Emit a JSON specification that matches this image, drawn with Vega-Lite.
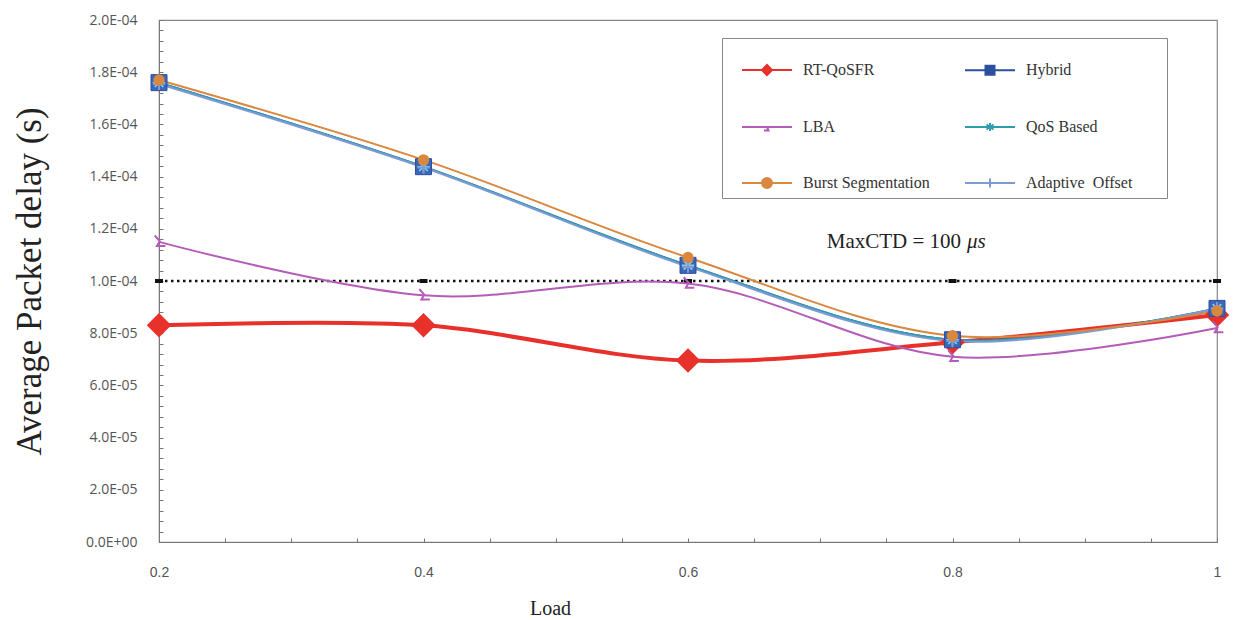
{
  "$schema": "https://vega.github.io/schema/vega-lite/v6.json",
  "width": 1058,
  "height": 522,
  "autosize": {"type": "none"},
  "padding": {"left": 159, "top": 20, "right": 18, "bottom": 78},
  "config": {"view": {"stroke": "#888", "strokeWidth": 1.2}, "font": "Liberation Serif"},
  "datasets": {
    "series": [
      {"series": "RT-QoSFR", "load": 0.2, "delay": 8.3e-5},
      {"series": "RT-QoSFR", "load": 0.4, "delay": 8.3e-5},
      {"series": "RT-QoSFR", "load": 0.6, "delay": 6.95e-5},
      {"series": "RT-QoSFR", "load": 0.8, "delay": 7.65e-5},
      {"series": "RT-QoSFR", "load": 1.0, "delay": 8.7e-5},
      {"series": "LBA", "load": 0.2, "delay": 1.15e-4},
      {"series": "LBA", "load": 0.4, "delay": 9.45e-5},
      {"series": "LBA", "load": 0.6, "delay": 9.9e-5},
      {"series": "LBA", "load": 0.8, "delay": 7.1e-5},
      {"series": "LBA", "load": 1.0, "delay": 8.2e-5},
      {"series": "Hybrid", "load": 0.2, "delay": 1.76e-4},
      {"series": "Hybrid", "load": 0.4, "delay": 1.438e-4},
      {"series": "Hybrid", "load": 0.6, "delay": 1.06e-4},
      {"series": "Hybrid", "load": 0.8, "delay": 7.75e-5},
      {"series": "Hybrid", "load": 1.0, "delay": 8.95e-5},
      {"series": "QoS Based", "load": 0.2, "delay": 1.76e-4},
      {"series": "QoS Based", "load": 0.4, "delay": 1.438e-4},
      {"series": "QoS Based", "load": 0.6, "delay": 1.06e-4},
      {"series": "QoS Based", "load": 0.8, "delay": 7.75e-5},
      {"series": "QoS Based", "load": 1.0, "delay": 8.95e-5},
      {"series": "Adaptive Offset", "load": 0.2, "delay": 1.755e-4},
      {"series": "Adaptive Offset", "load": 0.4, "delay": 1.435e-4},
      {"series": "Adaptive Offset", "load": 0.6, "delay": 1.055e-4},
      {"series": "Adaptive Offset", "load": 0.8, "delay": 7.7e-5},
      {"series": "Adaptive Offset", "load": 1.0, "delay": 8.95e-5},
      {"series": "Burst Segmentation", "load": 0.2, "delay": 1.77e-4},
      {"series": "Burst Segmentation", "load": 0.4, "delay": 1.464e-4},
      {"series": "Burst Segmentation", "load": 0.6, "delay": 1.09e-4},
      {"series": "Burst Segmentation", "load": 0.8, "delay": 7.9e-5},
      {"series": "Burst Segmentation", "load": 1.0, "delay": 8.85e-5}
    ],
    "maxctd": [
      {"load": 0.2, "delay": 1e-4},
      {"load": 0.4, "delay": 1e-4},
      {"load": 0.6, "delay": 1e-4},
      {"load": 0.8, "delay": 1e-4},
      {"load": 1.0, "delay": 1e-4}
    ],
    "note": [
      {"load": 0.808, "delay": 1.149e-4, "a": "MaxCTD = 100", "b": "μs"}
    ]
  },
  "layer": [
    {
      "data": {"name": "maxctd"},
      "mark": {"type": "line", "color": "#111", "strokeWidth": 2.5, "strokeDash": [2.5, 3.5]},
      "encoding": {
        "x": {
          "field": "load", "type": "quantitative",
          "scale": {"domain": [0.2, 1], "nice": false, "zero": false},
          "axis": {
            "values": [0.2, 0.25, 0.3, 0.35, 0.4, 0.45, 0.5, 0.55, 0.6, 0.65, 0.7, 0.75, 0.8, 0.85, 0.9, 0.95, 1],
            "tickCount": 100,
            "labelExpr": "round(datum.value*100) % 20 == 0 ? format(datum.value, '~g') : ''",
            "labelOverlap": false, "labelFlush": false,
            "tickSize": -4, "tickColor": "#777", "domainColor": "#777",
            "labelFont": "Liberation Sans", "labelFontSize": 14, "labelColor": "#555", "labelPadding": 27,
            "grid": false,
            "title": "Load", "titleFont": "Liberation Serif", "titleFontSize": 20, "titleFontWeight": "normal",
            "titleColor": "#222", "titleX": 391, "titleY": 72, "titleBaseline": "alphabetic", "titleAlign": "center"
          }
        },
        "y": {
          "field": "delay", "type": "quantitative",
          "scale": {"domain": [0, 0.0002], "nice": false, "zero": true},
          "axis": {
            "values": [0, 4e-6, 8e-6, 1.2e-5, 1.6e-5, 2e-5, 2.4e-5, 2.8e-5, 3.2e-5, 3.6e-5, 4e-5, 4.4e-5, 4.8e-5, 5.2e-5, 5.6e-5, 6e-5, 6.4e-5, 6.8e-5, 7.2e-5, 7.6e-5, 8e-5, 8.4e-5, 8.8e-5, 9.2e-5, 9.6e-5, 1e-4, 1.04e-4, 1.08e-4, 1.12e-4, 1.16e-4, 1.2e-4, 1.24e-4, 1.28e-4, 1.32e-4, 1.36e-4, 1.4e-4, 1.44e-4, 1.48e-4, 1.52e-4, 1.56e-4, 1.6e-4, 1.64e-4, 1.68e-4, 1.72e-4, 1.76e-4, 1.8e-4, 1.84e-4, 1.88e-4, 1.92e-4, 1.96e-4, 2e-4],
            "tickCount": 100,
            "labelExpr": "round(datum.value*1e6) % 20 != 0 ? '' : datum.value == 0 ? '0.0E+00' : datum.value >= 9.9e-5 ? format(datum.value*1e4, '.1f') + 'E-04' : format(datum.value*1e5, '.1f') + 'E-05'",
            "labelOverlap": false, "labelFlush": false,
            "tickSize": -4, "tickColor": "#777", "domainColor": "#777",
            "labelFont": "Open Sans", "labelFontSize": 14, "labelColor": "#555", "labelPadding": 26,
            "grid": false,
            "title": "Average Packet delay (s)", "titleFont": "Liberation Serif", "titleFontSize": 35,
            "titleFontWeight": "normal", "titleColor": "#222", "titlePadding": 38
          }
        }
      }
    },
    {
      "data": {"name": "maxctd"},
      "mark": {"type": "point", "shape": "M-1,-0.5H1V0.5H-1Z", "size": 64, "filled": true, "color": "#111", "opacity": 1},
      "encoding": {
        "x": {"field": "load", "type": "quantitative"},
        "y": {"field": "delay", "type": "quantitative"}
      }
    },
    {
      "data": {"name": "series"},
      "transform": [{"filter": "datum.series == 'RT-QoSFR'"}],
      "mark": {"type": "line", "interpolate": "catmull-rom", "color": "#E8312B", "strokeWidth": 4},
      "encoding": {
        "x": {"field": "load", "type": "quantitative"},
        "y": {"field": "delay", "type": "quantitative"}
      }
    },
    {
      "data": {"name": "series"},
      "mark": {"type": "line", "interpolate": "catmull-rom", "strokeWidth": 2},
      "encoding": {
        "x": {"field": "load", "type": "quantitative"},
        "y": {"field": "delay", "type": "quantitative"},
        "color": {
          "field": "series", "type": "nominal",
          "scale": {
            "domain": ["RT-QoSFR", "LBA", "Burst Segmentation", "Hybrid", "QoS Based", "Adaptive Offset"],
            "range": ["#E8312B", "#B55CB8", "#D98840", "#2D4FA0", "#2E9DB0", "#7C9BD4"]
          },
          "legend": {
            "orient": "none", "legendX": 563, "legendY": 18, "title": null,
            "columns": 2, "columnPadding": 21, "rowPadding": 22, "padding": 6,
            "symbolSize": 2500, "symbolStrokeWidth": 2, "labelOffset": 23,
            "labelFont": "Liberation Serif", "labelFontSize": 16, "labelColor": "#333",
            "strokeColor": "#888", "fillColor": "white",
            "labelExpr": "datum.label == 'Adaptive Offset' ? 'Adaptive\u00a0\u00a0Offset\u00a0\u00a0\u00a0\u00a0\u00a0\u00a0\u00a0\u200b' : datum.label",
            "encode": {
              "symbols": {
                "update": {
                  "shape": {"signal": "datum.value == 'RT-QoSFR' ? 'M-0.48,0H1.52M0.52,-0.2L0.72,0L0.52,0.2L0.32,0Z' : datum.value == 'Hybrid' ? 'M-0.48,0H1.52M0.34,-0.18H0.7V0.18H0.34Z' : datum.value == 'LBA' ? 'M-0.48,0H1.52M0.52,0L0.58,0.14H0.4' : datum.value == 'QoS Based' ? 'M-0.48,0H1.52M0.52,-0.16V0.16M0.38,-0.1L0.66,0.1M0.38,0.1L0.66,-0.1' : datum.value == 'Burst Segmentation' ? 'M-0.48,0H1.52M0.72,0A0.2,0.2,0,1,1,0.32,0A0.2,0.2,0,1,1,0.72,0Z' : 'M-0.48,0H1.52M0.52,-0.18V0.18'"},
                  "stroke": {"signal": "scale('color', datum.value)"},
                  "fill": {"signal": "indexof(['RT-QoSFR','Hybrid','Burst Segmentation'], datum.value) >= 0 ? scale('color', datum.value) : 'transparent'"}
                }
              }
            }
          }
        }
      }
    },
    {
      "data": {"name": "series"},
      "transform": [{"filter": "datum.series == 'RT-QoSFR'"}],
      "mark": {"type": "point", "shape": "diamond", "size": 600, "filled": true, "color": "#E8312B", "opacity": 1},
      "encoding": {"x": {"field": "load", "type": "quantitative"}, "y": {"field": "delay", "type": "quantitative"}}
    },
    {
      "data": {"name": "series"},
      "transform": [{"filter": "datum.series == 'LBA'"}],
      "mark": {"type": "point", "shape": "M-0.6,-0.9L0.1,-0.1L-0.3,0.6H0.9", "size": 200, "filled": false, "color": "#B55CB8", "strokeWidth": 2, "opacity": 1},
      "encoding": {"x": {"field": "load", "type": "quantitative"}, "y": {"field": "delay", "type": "quantitative"}}
    },
    {
      "data": {"name": "series"},
      "transform": [{"filter": "datum.series == 'Hybrid'"}],
      "mark": {"type": "point", "shape": "square", "size": 256, "filled": true, "color": "#3A66B8", "stroke": "#2D4FA0", "strokeWidth": 1, "opacity": 1},
      "encoding": {"x": {"field": "load", "type": "quantitative"}, "y": {"field": "delay", "type": "quantitative"}}
    },
    {
      "data": {"name": "series"},
      "transform": [{"filter": "datum.series == 'QoS Based'"}],
      "mark": {"type": "point", "shape": "M-1,0H1M0,-1V1M-0.7,-0.7L0.7,0.7M-0.7,0.7L0.7,-0.7", "size": 150, "filled": false, "color": "#8FD3E8", "strokeWidth": 1.5, "opacity": 1},
      "encoding": {"x": {"field": "load", "type": "quantitative"}, "y": {"field": "delay", "type": "quantitative"}}
    },
    {
      "data": {"name": "series"},
      "transform": [{"filter": "datum.series == 'Adaptive Offset'"}],
      "mark": {"type": "point", "shape": "M0,-1V1M-1,0H1", "size": 150, "filled": false, "color": "#7C9BD4", "strokeWidth": 2, "opacity": 1},
      "encoding": {"x": {"field": "load", "type": "quantitative"}, "y": {"field": "delay", "type": "quantitative"}}
    },
    {
      "data": {"name": "series"},
      "transform": [{"filter": "datum.series == 'Burst Segmentation'"}],
      "mark": {"type": "point", "shape": "circle", "size": 130, "filled": true, "color": "#D98840", "opacity": 1},
      "encoding": {"x": {"field": "load", "type": "quantitative"}, "y": {"field": "delay", "type": "quantitative"}}
    },
    {
      "data": {"name": "note"},
      "mark": {"type": "text", "align": "right", "baseline": "middle", "dx": -2, "font": "Liberation Serif", "fontSize": 21, "color": "#222"},
      "encoding": {"x": {"field": "load", "type": "quantitative"}, "y": {"field": "delay", "type": "quantitative"}, "text": {"field": "a"}}
    },
    {
      "data": {"name": "note"},
      "mark": {"type": "text", "align": "left", "baseline": "middle", "dx": 4, "font": "Liberation Serif", "fontSize": 21, "fontStyle": "italic", "color": "#222"},
      "encoding": {"x": {"field": "load", "type": "quantitative"}, "y": {"field": "delay", "type": "quantitative"}, "text": {"field": "b"}}
    }
  ]
}
